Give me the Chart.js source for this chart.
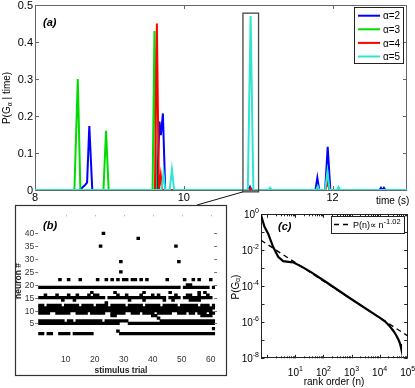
<!DOCTYPE html>
<html>
<head>
<meta charset="utf-8">
<script src="https://cdn.jsdelivr.net/npm/chart.js@4.4.1/dist/chart.umd.min.js"></script>
<style>
  html, body { margin: 0; padding: 0; background: #fff; }
  #fig { position: relative; width: 415px; height: 388px; overflow: hidden; background: #fff; }
  #fig canvas { position: absolute; }
</style>
</head>
<body>
<div id="fig">
  <canvas id="chartA" width="415" height="388" style="left:0;top:0"></canvas>
  <canvas id="chartB" width="220" height="180" style="left:10px;top:200px"></canvas>
  <canvas id="chartC" width="187" height="188" style="left:228px;top:200px"></canvas>
</div>
<script>
// ---------- panel (a): P(G_alpha | time) ----------
const alphaLabels = ['α=2', 'α=3', 'α=4', 'α=5'];
const alphaColors = ['#0000ff', '#00dc00', '#ff0000', '#2ee6cf'];

const timeA2 = [8.0, 8.60, 8.67, 8.70, 8.73, 8.77, 9.64, 9.673, 9.692, 9.719, 9.75, 10.87, 10.89, 10.91, 11.77, 11.795, 11.82, 11.90, 11.934, 11.97, 12.63, 12.65, 12.67, 12.69, 12.71, 13.0];
const probA2 = [0, 0, 0.013, 0.02, 0.173, 0, 0, 0.185, 0.148, 0.207, 0, 0, 0.008, 0, 0, 0.033, 0, 0, 0.117, 0, 0, 0.006, 0, 0.006, 0, 0];

const timeA3 = [8.0, 8.53, 8.575, 8.61, 8.92, 8.955, 8.99, 9.58, 9.606, 9.63, 11.90, 11.93, 11.96, 13.0];
const probA3 = [0, 0, 0.30, 0, 0, 0.16, 0, 0, 0.43, 0, 0, 0.02, 0, 0];

const timeA4 = [8.0, 9.612, 9.638, 9.665, 9.69, 9.71, 10.88, 10.90, 10.92, 11.14, 11.16, 11.18, 11.90, 11.93, 11.96, 13.0];
const probA4 = [0, 0, 0.45, 0, 0.04, 0, 0, 0.004, 0, 0, 0.003, 0, 0, 0.022, 0, 0];

const timeA5 = [8.0, 9.70, 9.727, 9.75, 9.81, 9.84, 9.87, 10.86, 10.898, 10.935, 11.14, 11.16, 11.18, 11.78, 11.80, 11.82, 11.90, 11.93, 11.96, 12.06, 12.08, 12.10, 13.0];
const probA5 = [0, 0, 0.046, 0, 0, 0.055, 0, 0, 0.47, 0, 0, 0.006, 0, 0, 0.01, 0, 0, 0.05, 0, 0, 0.008, 0, 0];

const timeTicks = [8, 10, 12];
const probTicks = [0, 0.1, 0.2, 0.3, 0.4, 0.5];
const zoomTime  = [10.795, 11.005];   // the boxed window
const zoomProb  = [-0.005, 0.478];
const connectorEnd = [197, 205];

// ---------- panel (b): raster, [neuron, first trial, last trial] ----------
const rasterRuns = [
  [40,23,23], [38,35,35], [35,22,22], [35,48,48], [29,29,29], [29,49,49], [25,29,29],
  [22,8,8], [22,11,11], [22,15,15], [22,21,21], [22,24,24], [22,26,26], [22,28,28], [22,30,31],
  [22,33,34], [22,36,36], [22,38,38], [22,45,45], [22,51,51], [22,54,54], [22,56,56], [22,60,60],
  [20,52,53],
  [19,1,49], [19,51,59], [19,61,61],
  [17,19,19], [17,27,27], [17,37,37], [17,46,46], [17,56,56], [17,58,58],
  [16,3,3], [16,7,7], [16,11,11], [16,14,14], [16,18,18], [16,20,21], [16,28,28], [16,31,31],
  [16,36,36], [16,40,40], [16,42,42], [16,48,48], [16,52,53], [16,56,56], [16,59,59],
  [15,1,23], [15,25,44], [15,46,49], [15,51,60],
  [14,9,9], [14,13,13], [14,32,32], [14,37,37], [14,44,44], [14,47,47], [14,53,56],
  [13,24,24],
  [12,1,2], [12,4,8], [12,10,14], [12,16,19], [12,21,24], [12,26,30], [12,32,36], [12,38,42],
  [12,44,48], [12,50,55], [12,57,59], [12,61,61],
  [11,1,61], [10,1,60],
  [9,1,4], [9,7,11], [9,14,17], [9,19,23], [9,26,30], [9,33,35], [9,37,40], [9,42,46],
  [9,49,51], [9,53,54], [9,56,58], [9,60,61],
  [8,26,27], [8,40,41], [8,57,60], [7,42,42],
  [6,1,9], [6,11,12], [6,14,22], [6,24,31], [6,43,61],
  [5,1,28], [5,32,61],
  [3,61,61], [2,28,28],
  [1,1,2], [1,4,5], [1,8,11], [1,13,19], [1,29,61]
];
const trialTicks  = [10, 20, 30, 40, 50, 60];
const neuronTicks = [5, 10, 15, 20, 25, 30, 35, 40];

// ---------- panel (c): rank-ordered P(G_alpha) ----------
const rankN = [0.6, 0.8, 1.07, 1.6, 2.45, 3.7, 5.75, 8.7, 17.4, 35, 120, 1000, 10000, 15850, 22400, 31600, 39800, 47900, 53700, 57500];
const rankP = [0.9, 0.2, 0.087, 0.016, 0.0044, 0.0025, 0.0023, 0.0021, 0.0012, 6.3e-4, 1.8e-4, 1.9e-5, 1.8e-6, 1.1e-6, 6.3e-7, 3.2e-7, 1.8e-7, 1e-7, 6.3e-8, 4e-8];
const fitN = [0.6, 1e5];
const fitP = [0.036, 1.74e-7];
const fitLabel = 'P(n)∝ n';
const fitExponent = '-1.02';
const rankTicks = [1e1, 1e2, 1e3, 1e4, 1e5];
const pTicks = [1, 1e-2, 1e-4, 1e-6, 1e-8];

// ---------- helpers ----------
const FONT = '"Liberation Sans", Arial, Helvetica, sans-serif';
const pts = (xs, ys) => xs.map((x, i) => ({x, y: ys[i]}));

function setFont(ctx, size, style) {
  ctx.font = (style || '') + ' ' + size + 'px ' + FONT;
}

// parts: [text, size, dy, style]
function rich(ctx, parts, x, y, align, color) {
  let w = 0;
  parts.forEach(p => { setFont(ctx, p[1], p[3]); w += ctx.measureText(p[0]).width; });
  let cx = align === 'center' ? x - w / 2 : align === 'right' ? x - w : x;
  ctx.fillStyle = color || '#000';
  ctx.textAlign = 'left';
  ctx.textBaseline = 'alphabetic';
  parts.forEach(p => {
    setFont(ctx, p[1], p[3]);
    ctx.fillText(p[0], cx, y + (p[2] || 0));
    cx += ctx.measureText(p[0]).width;
  });
}

const baseOpts = (padding, scales) => ({
  responsive: false,
  animation: false,
  devicePixelRatio: 1,
  layout: {padding},
  plugins: {legend: {display: false}, tooltip: {enabled: false}},
  scales
});

// ---------- panel (a) ----------
const panelA = {
  id: 'panelA',
  beforeDatasetsDraw(chart) {
    const {ctx, chartArea: a, scales: {x, y}} = chart;
    ctx.save();
    ctx.strokeStyle = '#666';
    ctx.lineWidth = 1;
    ctx.strokeRect(a.left + 0.5, a.top + 0.5, a.right - a.left - 1, a.bottom - a.top);
    ctx.beginPath();
    probTicks.forEach(v => {
      const py = Math.round(y.getPixelForValue(v)) + 0.5;
      ctx.moveTo(a.left, py); ctx.lineTo(a.left + 4, py);
      ctx.moveTo(a.right, py); ctx.lineTo(a.right - 4, py);
    });
    timeTicks.forEach(v => {
      const px = Math.round(x.getPixelForValue(v)) + 0.5;
      ctx.moveTo(px, a.top); ctx.lineTo(px, a.top + 4);
      ctx.moveTo(px, a.bottom); ctx.lineTo(px, a.bottom - 4);
    });
    ctx.stroke();
    ctx.restore();
  },
  afterDraw(chart) {
    const {ctx, chartArea: a, scales: {x, y}} = chart;
    ctx.save();
    // tick labels
    probTicks.forEach(v => rich(ctx, [[String(v), 11]], a.left - 2, y.getPixelForValue(v) + 4, 'right'));
    timeTicks.forEach(v => rich(ctx, [[String(v), 11]], x.getPixelForValue(v), 201, 'center'));
    rich(ctx, [['time (s)', 10]], 376, 204, 'left');
    rich(ctx, [['(a)', 11, 0, 'italic bold']], 43, 26, 'left');
    // y label
    ctx.save();
    ctx.translate(10, 98);
    ctx.rotate(-Math.PI / 2);
    rich(ctx, [['P(G', 10], ['α', 7, 2], [' | time)', 10]], 0, 0, 'center');
    ctx.restore();
    // zoom box and connector
    const bx0 = x.getPixelForValue(zoomTime[0]), bx1 = x.getPixelForValue(zoomTime[1]);
    const by0 = y.getPixelForValue(zoomProb[1]), by1 = y.getPixelForValue(zoomProb[0]);
    ctx.strokeStyle = '#444';
    ctx.lineWidth = 1.3;
    ctx.strokeRect(bx0, by0, bx1 - bx0, by1 - by0);
    ctx.strokeStyle = '#111';
    ctx.lineWidth = 1;
    ctx.beginPath();
    ctx.moveTo(bx0, by1);
    ctx.lineTo(connectorEnd[0], connectorEnd[1]);
    ctx.stroke();
    // legend
    ctx.fillStyle = '#fff';
    ctx.fillRect(354.5, 7.5, 49, 56);
    ctx.strokeStyle = '#222';
    ctx.lineWidth = 1;
    ctx.strokeRect(354.5, 7.5, 49, 56);
    alphaLabels.forEach((lab, i) => {
      const ly = 15.7 + i * 13.6;
      ctx.strokeStyle = alphaColors[i];
      ctx.lineWidth = 2;
      ctx.beginPath();
      ctx.moveTo(358, ly); ctx.lineTo(380, ly);
      ctx.stroke();
      rich(ctx, [[lab, 10]], 383, ly + 3.6, 'left');
    });
    ctx.restore();
  }
};

const seriesTimes = [timeA2, timeA3, timeA4, timeA5];
const seriesProbs = [probA2, probA3, probA4, probA5];

new Chart(document.getElementById('chartA'), {
  type: 'line',
  data: {
    datasets: alphaLabels.map((lab, i) => ({
      label: lab,
      data: pts(seriesTimes[i], seriesProbs[i]),
      borderColor: alphaColors[i],
      borderWidth: 2,
      pointRadius: 0,
      tension: 0,
      order: 4 - i
    }))
  },
  options: baseOpts({left: 35, top: 5, right: 8, bottom: 198}, {
    x: {type: 'linear', min: 8, max: 13, display: false},
    y: {type: 'linear', min: 0, max: 0.5, display: false}
  }),
  plugins: [panelA]
});

// ---------- panel (b) ----------
const panelB = {
  id: 'panelB',
  beforeDatasetsDraw(chart) {
    const {ctx} = chart;
    ctx.save();
    ctx.fillStyle = '#fff';
    ctx.fillRect(5.5, 5.5, 211, 170);
    ctx.strokeStyle = '#333';
    ctx.lineWidth = 1.2;
    ctx.strokeRect(5.5, 5.5, 211, 170);
    ctx.restore();
  },
  afterDraw(chart) {
    const {ctx, chartArea: a, scales: {x, y}} = chart;
    ctx.save();
    ctx.strokeStyle = '#777';
    ctx.lineWidth = 1;
    ctx.beginPath();
    neuronTicks.forEach(v => {
      const py = Math.round(y.getPixelForValue(v)) + 0.5;
      ctx.moveTo(a.left - 3, py); ctx.lineTo(a.left, py);
      ctx.moveTo(a.right - 1, py); ctx.lineTo(a.right + 2, py);
    });
    ctx.stroke();
    ctx.strokeStyle = '#bbb';
    ctx.beginPath();
    trialTicks.forEach(v => {
      const px = Math.round(x.getPixelForValue(v)) + 0.5;
      ctx.moveTo(px, a.top); ctx.lineTo(px, a.top + 1.5);
    });
    ctx.stroke();
    neuronTicks.forEach(v => rich(ctx, [[String(v), 8.5]], a.left - 4, y.getPixelForValue(v) + 3, 'right', '#333'));
    trialTicks.forEach(v => rich(ctx, [[String(v), 8.5]], x.getPixelForValue(v), 161.5, 'center', '#333'));
    rich(ctx, [['stimulus trial', 8.5, 0, 'bold']], 111, 172.5, 'center', '#222');
    rich(ctx, [['(b)', 11, 0, 'italic bold']], 33, 29, 'left');
    ctx.translate(11, 81);
    ctx.rotate(-Math.PI / 2);
    rich(ctx, [['neuron #', 8.5, 0, 'bold']], 0, 0, 'center', '#222');
    ctx.restore();
  }
};

new Chart(document.getElementById('chartB'), {
  type: 'bar',
  data: {
    datasets: [{
      data: rasterRuns.map(r => ({y: r[0], x: [r[1] - 0.5, r[2] + 0.5]})),
      backgroundColor: '#000',
      borderWidth: 0,
      categoryPercentage: 1,
      barPercentage: 1
    }]
  },
  options: Object.assign(baseOpts({left: 28.2, top: 14.9, right: 14.9, bottom: 27.9}, {
    x: {type: 'linear', min: 0.5, max: 61.5, display: false},
    y: {type: 'linear', min: 0.5, max: 40.5, display: false,
        afterBuildTicks: s => { s.ticks = neuronTicks.map(v => ({value: v})); }}
  }), {indexAxis: 'y'}),
  plugins: [panelB]
});

// ---------- panel (c) ----------
const panelC = {
  id: 'panelC',
  beforeDatasetsDraw(chart) {
    const {ctx, chartArea: a, scales: {x, y}} = chart;
    ctx.save();
    ctx.strokeStyle = '#222';
    ctx.lineWidth = 1;
    ctx.strokeRect(Math.round(a.left) + 0.5, Math.round(a.top) + 0.5,
                   Math.round(a.right - a.left) - 1, Math.round(a.bottom - a.top) - 1);
    ctx.beginPath();
    for (let e = 0; e < 5; e++) {
      for (let m = 1; m < 10; m++) {
        const v = m * Math.pow(10, e);
        const px = Math.round(x.getPixelForValue(v)) + 0.5;
        const len = m === 1 ? 3.5 : 2;
        ctx.moveTo(px, a.bottom); ctx.lineTo(px, a.bottom - len);
        ctx.moveTo(px, a.top); ctx.lineTo(px, a.top + len);
      }
    }
    for (let e = -8; e <= 0; e++) {
      const py = Math.round(y.getPixelForValue(Math.pow(10, e))) + 0.5;
      ctx.moveTo(a.left, py); ctx.lineTo(a.left + 3.5, py);
      ctx.moveTo(a.right, py); ctx.lineTo(a.right - 3.5, py);
    }
    ctx.stroke();
    ctx.restore();
  },
  afterDraw(chart) {
    const {ctx, chartArea: a, scales: {x, y}} = chart;
    ctx.save();
    pTicks.forEach(v => {
      const e = Math.round(Math.log10(v));
      rich(ctx, [['10', 10], [String(e), 7, -5]], a.left - 2, y.getPixelForValue(v) + 4, 'right');
    });
    rankTicks.forEach(v => {
      const e = Math.round(Math.log10(v));
      rich(ctx, [['10', 10], [String(e), 7, -5]], x.getPixelForValue(v), 176, 'center');
    });
    rich(ctx, [['rank order (n)', 10]], 106, 185, 'center');
    rich(ctx, [['(c)', 11, 0, 'italic bold']], 50, 30, 'left');
    // legend
    ctx.fillStyle = '#fff';
    ctx.fillRect(103.5, 16.5, 73, 17);
    ctx.strokeStyle = '#222';
    ctx.lineWidth = 1;
    ctx.strokeRect(103.5, 16.5, 73, 17);
    ctx.strokeStyle = '#000';
    ctx.lineWidth = 1.5;
    ctx.setLineDash([5, 4]);
    ctx.beginPath();
    ctx.moveTo(106, 24.5); ctx.lineTo(123, 24.5);
    ctx.stroke();
    ctx.setLineDash([]);
    rich(ctx, [[fitLabel, 9], [fitExponent, 7.5, -4.5]], 125, 28, 'left');
    // y label
    ctx.translate(11, 87);
    ctx.rotate(-Math.PI / 2);
    rich(ctx, [['P(G', 10], ['α', 6.5, 1], [')', 10]], 0, 0, 'center');
    ctx.restore();
  }
};

new Chart(document.getElementById('chartC'), {
  type: 'line',
  data: {
    datasets: [
      {data: pts(rankN, rankP), borderColor: '#000', borderWidth: 2.2, pointRadius: 0, tension: 0},
      {data: pts(fitN, fitP), borderColor: '#000', borderWidth: 1.4, borderDash: [5, 4], pointRadius: 0}
    ]
  },
  options: baseOpts({left: 33, top: 14.3, right: 7.3, bottom: 29.7}, {
    x: {type: 'logarithmic', min: 0.6, max: 1e5, display: false},
    y: {type: 'logarithmic', min: 1e-8, max: 1, display: false}
  }),
  plugins: [panelC]
});
</script>
</body>
</html>
